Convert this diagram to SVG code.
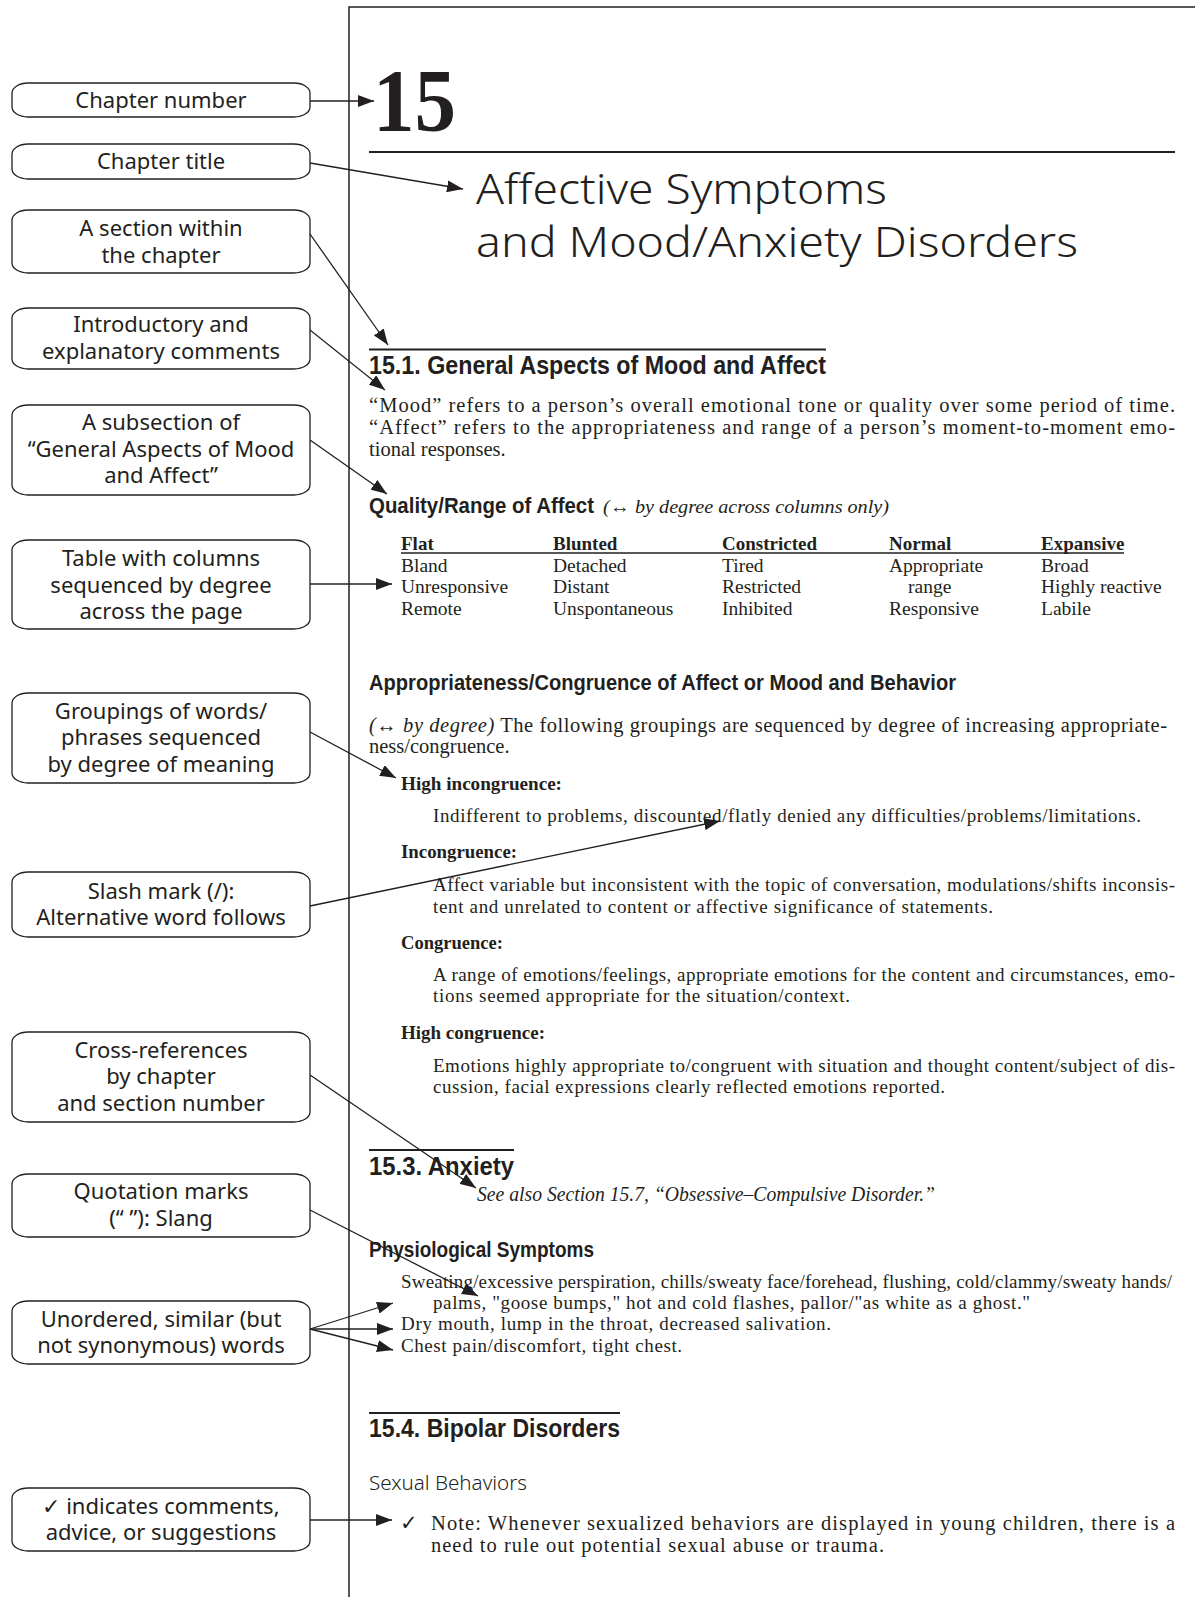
<svg xmlns="http://www.w3.org/2000/svg" width="1195" height="1597" viewBox="0 0 1195 1597">
<defs>
<marker id="ah" viewBox="0 0 16 12" refX="16" refY="6" markerWidth="16" markerHeight="12" orient="auto" markerUnits="userSpaceOnUse"><path d="M0,0 L16,6 L0,12 Z" fill="#231f20"/></marker>
<style>
.box{fill:#fff;stroke:#231f20;stroke-width:1.3}
.bt{font-family:"Noto Sans","Liberation Sans",sans-serif;font-size:22px;fill:#231f20;text-anchor:middle}
.ttl{font-family:"Noto Sans","Liberation Sans",sans-serif;font-weight:300;font-size:43px;fill:#231f20}
.num{font-family:"Liberation Serif","Times New Roman",serif;font-weight:bold;font-size:88px;fill:#231f20}
.h1{font-family:"Liberation Sans",Arial,sans-serif;font-weight:bold;font-size:25px;fill:#231f20}
.h2{font-family:"Liberation Sans",Arial,sans-serif;font-weight:bold;font-size:22.5px;fill:#231f20}
.lt{font-family:"Noto Sans","Liberation Sans",sans-serif;font-weight:300;font-size:20px;fill:#231f20}
.sr{font-family:"Liberation Serif","Times New Roman",serif;font-size:20.5px;fill:#231f20}
.cs{font-family:"Liberation Serif","Times New Roman",serif;font-size:19px;fill:#231f20}
.tb{font-family:"Liberation Serif","Times New Roman",serif;font-size:19.5px;fill:#231f20}
.sb{font-family:"Liberation Serif","Times New Roman",serif;font-size:19px;font-weight:bold;fill:#231f20}
.it{font-style:italic}
.rule{stroke:#231f20;fill:none}
.conn line{stroke:#231f20;stroke-width:1.3;marker-end:url(#ah)}
.ck{font-family:"DejaVu Sans",sans-serif}
</style>
</defs>
<rect width="1195" height="1597" fill="#fff"/>

<g id="page">
<path class="rule" d="M349,1597 V7 H1195" stroke-width="1.5"/>
<text id="chapter-num" class="num" x="373" y="130" textLength="83" lengthAdjust="spacingAndGlyphs">15</text>
<line class="rule" x1="369" y1="152" x2="1175" y2="152" stroke-width="2.2"/>
<text class="ttl" x="476" y="204" textLength="411" lengthAdjust="spacingAndGlyphs">Affective Symptoms</text>
<text class="ttl" x="476" y="257" textLength="602" lengthAdjust="spacingAndGlyphs">and Mood/Anxiety Disorders</text>

<line class="rule" x1="369" y1="349.5" x2="826" y2="349.5" stroke-width="2"/>
<text class="h1" x="369" y="374" textLength="457" lengthAdjust="spacingAndGlyphs">15.1.  General Aspects of Mood and Affect</text>
<text class="sr" x="369" y="412" textLength="806" lengthAdjust="spacing">“Mood” refers to a person’s overall emotional tone or quality over some period of time.</text>
<text class="sr" x="369" y="434" textLength="806" lengthAdjust="spacing">“Affect” refers to the appropriateness and range of a person’s moment-to-moment emo-</text>
<text class="sr" x="369" y="456">tional responses.</text>

<text class="h2" x="369" y="513" textLength="225" lengthAdjust="spacingAndGlyphs">Quality/Range of Affect</text>
<text class="cs it" x="603" y="513" textLength="286" lengthAdjust="spacingAndGlyphs">(↔ by degree across columns only)</text>

<g id="table">
<line class="rule" x1="401" y1="553" x2="1124" y2="553" stroke-width="1.6"/>
<text class="sb" x="401" y="550">Flat</text>
<text class="sb" x="553" y="550">Blunted</text>
<text class="sb" x="722" y="550">Constricted</text>
<text class="sb" x="889" y="550">Normal</text>
<text class="sb" x="1041" y="550">Expansive</text>
<text class="tb" x="401" y="572">Bland</text>
<text class="tb" x="401" y="593">Unresponsive</text>
<text class="tb" x="401" y="615">Remote</text>
<text class="tb" x="553" y="572">Detached</text>
<text class="tb" x="553" y="593">Distant</text>
<text class="tb" x="553" y="615">Unspontaneous</text>
<text class="tb" x="722" y="572">Tired</text>
<text class="tb" x="722" y="593">Restricted</text>
<text class="tb" x="722" y="615">Inhibited</text>
<text class="tb" x="889" y="572">Appropriate</text>
<text class="tb" x="908" y="593">range</text>
<text class="tb" x="889" y="615">Responsive</text>
<text class="tb" x="1041" y="572">Broad</text>
<text class="tb" x="1041" y="593">Highly reactive</text>
<text class="tb" x="1041" y="615">Labile</text>
</g>

<text class="h2" x="369" y="690" textLength="587" lengthAdjust="spacingAndGlyphs">Appropriateness/Congruence of Affect or Mood and Behavior</text>
<text class="sr" x="369" y="732" textLength="798" lengthAdjust="spacing"><tspan class="it">(↔ by degree)</tspan> The following groupings are sequenced by degree of increasing appropriate-</text>
<text class="sr" x="369" y="753">ness/congruence.</text>

<text class="sb" x="401" y="790" textLength="161" lengthAdjust="spacingAndGlyphs">High incongruence:</text>
<text class="cs" x="433" y="822" textLength="708" lengthAdjust="spacing">Indifferent to problems, discounted/flatly denied any difficulties/problems/limitations.</text>
<text class="sb" x="401" y="858" textLength="116" lengthAdjust="spacingAndGlyphs">Incongruence:</text>
<text class="cs" x="433" y="891" textLength="742" lengthAdjust="spacing">Affect variable but inconsistent with the topic of conversation, modulations/shifts inconsis-</text>
<text class="cs" x="433" y="913" textLength="560" lengthAdjust="spacing">tent and unrelated to content or affective significance of statements.</text>
<text class="sb" x="401" y="949" textLength="102" lengthAdjust="spacingAndGlyphs">Congruence:</text>
<text class="cs" x="433" y="981" textLength="742" lengthAdjust="spacing">A range of emotions/feelings, appropriate emotions for the content and circumstances, emo-</text>
<text class="cs" x="433" y="1002" textLength="417" lengthAdjust="spacing">tions seemed appropriate for the situation/context.</text>
<text class="sb" x="401" y="1039" textLength="144" lengthAdjust="spacingAndGlyphs">High congruence:</text>
<text class="cs" x="433" y="1072" textLength="742" lengthAdjust="spacing">Emotions highly appropriate to/congruent with situation and thought content/subject of dis-</text>
<text class="cs" x="433" y="1093" textLength="512" lengthAdjust="spacing">cussion, facial expressions clearly reflected emotions reported.</text>

<line class="rule" x1="369" y1="1150" x2="514" y2="1150" stroke-width="2"/>
<text class="h1" x="369" y="1175" textLength="145" lengthAdjust="spacingAndGlyphs">15.3.  Anxiety</text>
<text class="sr it" x="477" y="1201" textLength="458" lengthAdjust="spacingAndGlyphs">See also Section 15.7, “Obsessive–Compulsive Disorder.”</text>

<text class="h2" x="369" y="1257" textLength="225" lengthAdjust="spacingAndGlyphs">Physiological Symptoms</text>
<text class="cs" x="401" y="1288" textLength="771" lengthAdjust="spacing">Sweating/excessive perspiration, chills/sweaty face/forehead, flushing, cold/clammy/sweaty hands/</text>
<text class="cs" x="433" y="1309" textLength="597" lengthAdjust="spacing">palms, "goose bumps," hot and cold flashes, pallor/"as white as a ghost."</text>
<text class="cs" x="401" y="1330" textLength="430" lengthAdjust="spacing">Dry mouth, lump in the throat, decreased salivation.</text>
<text class="cs" x="401" y="1352" textLength="281" lengthAdjust="spacing">Chest pain/discomfort, tight chest.</text>

<line class="rule" x1="369" y1="1413" x2="620" y2="1413" stroke-width="2"/>
<text class="h1" x="369" y="1437" textLength="251" lengthAdjust="spacingAndGlyphs">15.4.  Bipolar Disorders</text>
<text class="lt" x="369" y="1490" textLength="158" lengthAdjust="spacingAndGlyphs">Sexual Behaviors</text>
<text class="ck" x="400" y="1530" font-size="21" fill="#231f20">✓</text>
<text class="sr" x="431" y="1530" textLength="744" lengthAdjust="spacing">Note: Whenever sexualized behaviors are displayed in young children, there is a</text>
<text class="sr" x="431" y="1552" textLength="453" lengthAdjust="spacing">need to rule out potential sexual abuse or trauma.</text>
</g>

<g id="node-chapter-number"><rect class="box" x="12" y="83" width="298" height="34" rx="16" ry="10"/><text class="bt" x="161" y="108">Chapter number</text></g>
<g id="node-chapter-title"><rect class="box" x="12" y="144" width="298" height="35" rx="16" ry="10"/><text class="bt" x="161" y="169">Chapter title</text></g>
<g id="node-section"><rect class="box" x="12" y="210" width="298" height="63" rx="16" ry="10"/><text class="bt" x="161" y="236">A section within</text><text class="bt" x="161" y="263">the chapter</text></g>
<g id="node-intro"><rect class="box" x="12" y="308" width="298" height="61" rx="16" ry="10"/><text class="bt" x="161" y="332">Introductory and</text><text class="bt" x="161" y="358.5">explanatory comments</text></g>
<g id="node-subsection"><rect class="box" x="12" y="405" width="298" height="90" rx="16" ry="10"/><text class="bt" x="161" y="430">A subsection of</text><text class="bt" x="161" y="456.5">“General Aspects of Mood</text><text class="bt" x="161" y="483">and Affect”</text></g>
<g id="node-table"><rect class="box" x="12" y="540" width="298" height="89" rx="16" ry="10"/><text class="bt" x="161" y="566">Table with columns</text><text class="bt" x="161" y="592.5">sequenced by degree</text><text class="bt" x="161" y="619">across the page</text></g>
<g id="node-groupings"><rect class="box" x="12" y="693" width="298" height="90" rx="16" ry="10"/><text class="bt" x="161" y="718.5">Groupings of words/</text><text class="bt" x="161" y="745">phrases sequenced</text><text class="bt" x="161" y="771.5">by degree of meaning</text></g>
<g id="node-slash"><rect class="box" x="12" y="872" width="298" height="65" rx="16" ry="10"/><text class="bt" x="161" y="898.5">Slash mark (/):</text><text class="bt" x="161" y="925">Alternative word follows</text></g>
<g id="node-crossref"><rect class="box" x="12" y="1032" width="298" height="90" rx="16" ry="10"/><text class="bt" x="161" y="1057.5">Cross-references</text><text class="bt" x="161" y="1084">by chapter</text><text class="bt" x="161" y="1110.5">and section number</text></g>
<g id="node-quotes"><rect class="box" x="12" y="1174" width="298" height="63" rx="16" ry="10"/><text class="bt" x="161" y="1199">Quotation marks</text><text class="bt" x="161" y="1225.5">(“ ”): Slang</text></g>
<g id="node-unordered"><rect class="box" x="12" y="1301" width="298" height="63" rx="16" ry="10"/><text class="bt" x="161" y="1326.5">Unordered, similar (but</text><text class="bt" x="161" y="1353">not synonymous) words</text></g>
<g id="node-check"><rect class="box" x="12" y="1488" width="298" height="63" rx="16" ry="10"/><text class="bt" x="161" y="1514">✓ indicates comments,</text><text class="bt" x="161" y="1540">advice, or suggestions</text></g>

<g id="connectors" class="conn">
<line x1="310" y1="101" x2="374" y2="101"/>
<line x1="310" y1="163" x2="463" y2="189"/>
<line x1="310" y1="234" x2="388" y2="345"/>
<line x1="310" y1="330" x2="385" y2="390"/>
<line x1="310" y1="440" x2="387" y2="494"/>
<line x1="310" y1="584" x2="392" y2="584"/>
<line x1="310" y1="732" x2="396" y2="778"/>
<line x1="310" y1="906" x2="720" y2="821"/>
<line x1="310" y1="1075" x2="476" y2="1188"/>
<line x1="310" y1="1210" x2="478" y2="1296"/>
<line x1="310" y1="1329" x2="393" y2="1303"/>
<line x1="310" y1="1329" x2="393" y2="1329"/>
<line x1="310" y1="1329" x2="393" y2="1350"/>
<line x1="310" y1="1520" x2="392" y2="1520"/>
</g>
</svg>
